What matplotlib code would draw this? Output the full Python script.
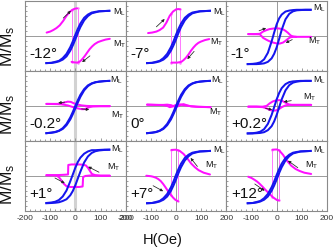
import matplotlib
matplotlib.use('Agg')
import matplotlib.pyplot as plt
from matplotlib.ticker import MultipleLocator, FuncFormatter

plt.rcParams['font.family'] = ['Liberation Sans', 'DejaVu Sans']
plt.rcParams['mathtext.fontset'] = 'custom'
plt.rcParams['mathtext.rm'] = 'Liberation Sans'
plt.rcParams['mathtext.it'] = 'Liberation Sans:italic'
plt.rcParams['axes.unicode_minus'] = False

# ---------------- data ----------------
ANGLES = ['-12°', '-7°', '-1°', '-0.2°', '0°', '+0.2°', '+1°', '+7°', '+12°']
XTICKS = [-200, -100, 0, 100, 200]

# longitudinal magnetisation M_L on a common field grid (Oe)
HB = [-115, -95, -80, -65, -50, -35, -20, -10, 0, 10, 20, 35, 50, 65, 80, 95, 115, 135]
ML_UP_N = [-1.09, -1.08, -1.06, -1.02, -0.95, -0.82, -0.59, -0.38, -0.14, 0.12, 0.35, 0.62, 0.79, 0.90, 0.94, 0.98, 0.99, 1.0]
ML_DN_N = [-1.09, -1.08, -1.04, -1.0, -0.89, -0.72, -0.45, -0.22, 0.04, 0.28, 0.49, 0.72, 0.85, 0.93, 0.96, 0.98, 0.99, 1.0]
ML_UP_Z = [-1.09, -1.07, -1.05, -1.0, -0.92, -0.77, -0.54, -0.33, -0.1, 0.14, 0.36, 0.62, 0.79, 0.89, 0.94, 0.97, 0.99, 1.0]
ML_DN_Z = [-1.09, -1.07, -1.04, -0.99, -0.89, -0.72, -0.46, -0.24, 0.0, 0.23, 0.44, 0.67, 0.82, 0.90, 0.95, 0.97, 0.99, 1.0]
ML_UP_W1 = [-1.13, -1.13, -1.13, -1.12, -1.1, -1.04, -0.9, -0.72, -0.46, -0.12, 0.24, 0.66, 0.88, 0.98, 1.02, 1.03, 1.04, 1.04]
ML_DN_W1 = [-1.13, -1.12, -1.10, -1.06, -0.94, -0.68, -0.22, 0.13, 0.46, 0.70, 0.85, 0.97, 1.01, 1.03, 1.04, 1.04, 1.04, 1.04]
ML_UP_W2 = [-1.1, -1.1, -1.09, -1.08, -1.05, -0.97, -0.81, -0.62, -0.36, -0.05, 0.26, 0.62, 0.83, 0.93, 0.97, 0.99, 1.0, 1.0]
ML_DN_W2 = [-1.1, -1.09, -1.07, -1.03, -0.93, -0.72, -0.36, -0.05, 0.26, 0.52, 0.71, 0.87, 0.95, 0.98, 0.99, 1.0, 1.0, 1.0]
ML_UP_W3 = [-1.09, -1.08, -1.07, -1.05, -1.0, -0.93, -0.77, -0.6, -0.37, -0.1, 0.17, 0.54, 0.78, 0.92, 0.99, 1.02, 1.04, 1.05]
ML_DN_W3 = [-1.08, -1.06, -1.03, -0.96, -0.82, -0.58, -0.21, 0.06, 0.33, 0.56, 0.73, 0.89, 0.98, 1.03, 1.03, 1.04, 1.05, 1.05]

ML_UP = [ML_UP_N, ML_UP_N, ML_UP_W1, ML_UP_Z, ML_UP_Z, ML_UP_W2, ML_UP_W3, ML_UP_N, ML_UP_N]
ML_DN = [ML_DN_N, ML_DN_N, ML_DN_W1, ML_DN_Z, ML_DN_Z, ML_DN_W2, ML_DN_W3, ML_DN_N, ML_DN_N]

# transverse magnetisation M_T: two branches per panel, (H, M) points
MT_A_M12 = [(-114, 0.13), (-100, 0.17), (-88, 0.23), (-75, 0.31), (-62, 0.42), (-48, 0.6), (-35, 0.8), (-22, 0.96), (-12, 1.04), (-3, 1.08), (7, 1.1)]
MT_B_M12 = [(-15, -1.04), (-5, -1.06), (7, -1.07), (16, -1.04), (24, -0.97), (31, -0.89), (38, -0.8), (47, -0.67), (57, -0.53), (67, -0.42), (77, -0.33), (90, -0.25), (104, -0.2), (120, -0.15), (137, -0.12)]
MT_A_M7 = [(-111, 0.11), (-95, 0.13), (-78, 0.17), (-65, 0.23), (-51, 0.33), (-38, 0.53), (-25, 0.8), (-12, 0.97), (1, 1.06), (10, 1.07), (16, 1.06)]
MT_B_M7 = [(-18, -1.07), (-5, -1.07), (5, -1.07), (21, -1.04), (30, -0.97), (40, -0.87), (50, -0.74), (59, -0.6), (69, -0.47), (79, -0.36), (89, -0.28), (99, -0.23), (115, -0.17), (132, -0.13)]
MT_A_M1 = [(-113, 0.07), (-90, 0.07), (-67, 0.08), (-54, 0.17), (-40, 0.23), (-28, 0.27), (-14, 0.29), (-1, 0.3), (12, 0.29), (25, 0.26), (35, 0.2), (45, 0.12), (52, 0.05), (58, 0.0), (68, -0.03), (78, -0.04), (100, -0.04), (137, -0.04)]
MT_B_M1 = [(-113, 0.07), (-67, 0.06), (-60, -0.01), (-54, -0.08), (-40, -0.16), (-28, -0.22), (-14, -0.27), (-1, -0.3), (12, -0.31), (25, -0.27), (35, -0.2), (45, -0.12), (52, -0.07), (58, -0.05), (68, -0.04), (78, -0.04)]
MT_A_M02 = [(-115, 0.08), (-90, 0.08), (-70, 0.08), (-55, 0.1), (-42, 0.14), (-30, 0.17), (-18, 0.16), (-5, 0.1), (10, 0.05), (25, 0.02), (45, 0.0), (70, -0.01), (100, -0.01), (137, -0.01)]
MT_B_M02 = [(-115, 0.08), (-70, 0.07), (-55, 0.06), (-42, 0.04), (-30, 0.02), (-18, -0.02), (-5, -0.06), (10, -0.1), (25, -0.13), (35, -0.13), (45, -0.1), (55, -0.05), (70, -0.02), (100, -0.01), (137, -0.01)]
MT_A_0 = [(-115, 0.05), (-80, 0.04), (-50, 0.03), (-35, 0.0), (-25, -0.05), (-15, -0.03), (-5, 0.02), (5, 0.04), (15, 0.06), (30, 0.03), (50, 0.0), (80, -0.03), (137, -0.05)]
MT_B_0 = [(-115, 0.05), (-80, 0.04), (-50, 0.04), (-35, 0.05), (-20, 0.03), (-5, -0.03), (10, -0.01), (20, 0.05), (30, 0.07), (45, 0.02), (60, -0.02), (90, -0.04), (137, -0.05)]
MT_A_P02 = [(-113, -0.03), (-80, -0.03), (-55, -0.03), (-40, 0.0), (-28, 0.1), (-15, 0.18), (-2, 0.22), (10, 0.23), (22, 0.2), (35, 0.13), (48, 0.06), (60, 0.04), (80, 0.04), (137, 0.04)]
MT_B_P02 = [(-113, -0.03), (-80, -0.03), (-55, -0.05), (-40, -0.1), (-28, -0.16), (-15, -0.19), (-2, -0.18), (10, -0.12), (22, -0.04), (35, 0.02), (48, 0.04), (60, 0.04), (80, 0.04), (137, 0.04)]
MT_A_P1 = [(-115, 0.03), (-90, 0.03), (-60, 0.04), (-40, 0.05), (-29, 0.06), (-28, 0.44), (-15, 0.46), (0, 0.46), (15, 0.46), (30, 0.45), (42, 0.42), (50, 0.33), (58, 0.2), (66, 0.08), (80, 0.03), (100, 0.01), (137, 0.01)]
MT_B_P1 = [(-115, 0.03), (-90, 0.03), (-75, 0.02), (-65, -0.05), (-55, -0.18), (-45, -0.32), (-35, -0.41), (-20, -0.44), (0, -0.44), (15, -0.44), (29, -0.42), (31, -0.04), (40, 0.0), (60, 0.02), (100, 0.01), (137, 0.01)]
MT_A_P7 = [(-118, 0.01), (-100, -0.01), (-91, -0.03), (-80, -0.07), (-71, -0.12), (-61, -0.2), (-51, -0.32), (-42, -0.45), (-32, -0.6), (-22, -0.74), (-12, -0.86), (-3, -0.95), (8, -1.01)]
MT_B_P7 = [(-18, 1.04), (0, 1.05), (15, 1.0), (30, 0.88), (45, 0.7), (60, 0.5), (75, 0.35), (90, 0.23), (110, 0.13), (135, 0.06)]
MT_A_P12 = [(-113, -0.03), (-100, -0.08), (-87, -0.16), (-77, -0.23), (-67, -0.32), (-57, -0.42), (-48, -0.52), (-38, -0.62), (-28, -0.72), (-15, -0.85), (-5, -0.92), (1, -0.96), (9, -0.98)]
MT_B_P12 = [(-17, 1.05), (0, 1.06), (10, 1.02), (25, 0.85), (40, 0.62), (58, 0.41), (75, 0.28), (91, 0.2), (110, 0.13), (137, 0.08)]

MT_A = [MT_A_M12, MT_A_M7, MT_A_M1, MT_A_M02, MT_A_0, MT_A_P02, MT_A_P1, MT_A_P7, MT_A_P12]
MT_B = [MT_B_M12, MT_B_M7, MT_B_M1, MT_B_M02, MT_B_0, MT_B_P02, MT_B_P1, MT_B_P7, MT_B_P12]

# switching jumps of M_T: (field, M from, M to)
SW = [[(9, 1.1, -1.07), (-15, 1.02, -1.04)],
      [(17, 1.06, -1.07), (-18, 0.88, -1.07)],
      [], [], [], [], [],
      [(8, -1.01, 1.04), (-18, 1.04, -0.78)],
      [(9, -0.98, 1.05), (-17, 1.05, -0.83)]]

# ---------------- layout / annotation constants ----------------
ML_POS = [(150, 0.93), (147, 0.93), (144, 1.1), (137, 1.01), (140, 1.01), (144, 1.01), (143, 1.08), (147, 1.04), (144, 1.01)]
MT_POS = [(150, -0.33), (136, -0.27), (124, -0.2), (143, -0.39), (133, -0.25), (104, 0.35), (124, 0.35), (116, 0.41), (111, 0.41)]
ARROWS = [[((-48, 0.71), (-18, 1.0)), ((58, -0.8), (27, -1.05))],
          [((-78, 0.36), (-45, 0.67)), ((72, -0.62), (45, -0.93))],
          [((-70, 0.2), (-42, 0.31)), ((62, -0.15), (36, -0.28))],
          [((-42, 0.15), (-68, 0.12)), ((25, -0.12), (55, -0.15))],
          [],
          [((58, 0.21), (28, 0.16)), ((-44, -0.1), (-18, -0.15))],
          [((94, 0.15), (51, 0.37)), ((-81, -0.08), (-42, -0.29))],
          [((85, 0.38), (58, 0.72)), ((-91, -0.39), (-51, -0.61))],
          [((84, 0.33), (45, 0.61)), ((-87, -0.32), (-48, -0.59))]]

BLUE = '#1515ee'
MAG = '#ff10ff'
GRAY = '#8a8a8a'
LW = 1.45

W, H = 334, 248
fig = plt.figure(figsize=(W / 100, H / 100), dpi=100)
gs = fig.add_gridspec(3, 3, left=25 / W, right=327 / W, top=1 - 0.8 / H, bottom=1 - 211 / H,
                      wspace=0, hspace=0)

for i in range(9):
    r, c = divmod(i, 3)
    ax = fig.add_subplot(gs[r, c])
    ax.set_xlim(-200, 200)
    ax.set_ylim(-1.4, 1.4)
    for s in ax.spines.values():
        s.set_color(GRAY)
        s.set_linewidth(0.8)
    # reference lines
    ax.axhline(0, color=GRAY, lw=0.6, zorder=1)
    if c == 0:
        ax.axvline(0, color='#d2d2d2', lw=2.2, zorder=1)
    else:
        ax.axvline(0, color=GRAY, lw=0.6, zorder=1)

    # transverse
    for sw in SW[i]:
        ax.plot([sw[0], sw[0]], [sw[1], sw[2]], color='#ff77ff', lw=0.7, zorder=2,
                marker='.', ms=1.5)
    for cur in (MT_A[i], MT_B[i]):
        ax.plot([p[0] for p in cur], [p[1] for p in cur], color=MAG, lw=LW, zorder=3,
                solid_capstyle='round', solid_joinstyle='round')
    # longitudinal
    ax.plot(HB, ML_UP[i], color=BLUE, lw=LW, zorder=4, solid_joinstyle='round')
    ax.plot(HB, ML_DN[i], color=BLUE, lw=LW, zorder=4, solid_joinstyle='round')

    # arrows
    for tail, tip in ARROWS[i]:
        ax.annotate('', xy=tip, xytext=tail,
                    arrowprops=dict(arrowstyle='-|>', lw=0.55, color='#222222',
                                    mutation_scale=4, shrinkA=0, shrinkB=0), zorder=5)

    # labels
    ax.text(ML_POS[i][0], ML_POS[i][1], r'M$_\mathregular{L}$', fontsize=6.5, ha='left', va='center', color='#111111')
    ax.text(MT_POS[i][0], MT_POS[i][1], r'M$_\mathregular{T}$', fontsize=6.5, ha='left', va='center', color='#111111')
    ax.text(-182, -0.72, ANGLES[i], fontsize=11, ha='left', va='center', color='#111111')

    # ticks
    ax.set_xticks(XTICKS)
    ax.xaxis.set_minor_locator(MultipleLocator(20))
    ax.yaxis.set_major_locator(MultipleLocator(0.2))
    ax.tick_params(axis='both', which='both', direction='in', color=GRAY, width=0.6)
    ax.tick_params(axis='x', which='major', length=2.5)
    ax.tick_params(axis='x', which='minor', length=1.4)
    ax.tick_params(axis='y', which='major', length=1.4, labelleft=False)
    if r == 2:
        if c == 2:
            ax.xaxis.set_major_formatter(FuncFormatter(lambda v, p: '' if v == -200 else f'{int(v)}'))
        else:
            ax.xaxis.set_major_formatter(FuncFormatter(lambda v, p: f'{int(v)}'))
        ax.tick_params(axis='x', labelsize=6, labelcolor='#333333', pad=3)
    else:
        ax.tick_params(axis='x', labelbottom=False)

for yc in (46, 114, 184):
    fig.text(8 / W, 1 - yc / H, r'M/M$_\mathregular{s}$', rotation=90, fontsize=12.5,
             ha='center', va='center', color='#111111')

fig.text(163 / W, 1 - 240 / H, 'H(Oe)', fontsize=10.5, ha='center', va='center', color='#111111')

fig.savefig('out.png', dpi=100)
